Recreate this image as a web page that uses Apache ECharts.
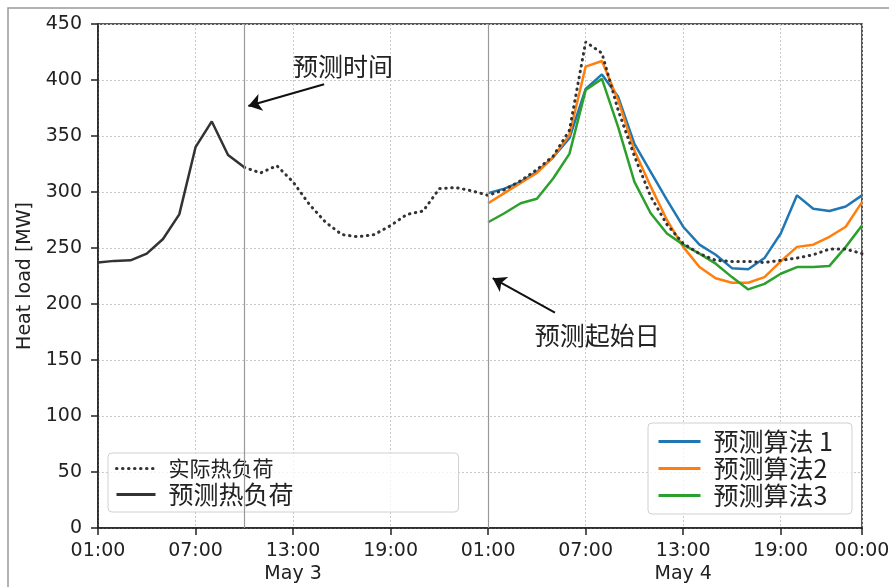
<!DOCTYPE html>
<html><head><meta charset="utf-8">
<script src="https://cdn.jsdelivr.net/npm/echarts@6/dist/echarts.min.js"></script>
<style>html,body{margin:0;padding:0;background:#fff}#c{width:889px;height:587px}</style>
</head><body><div id="c"></div>
<script>
// hours since 01:00 May 3
const tickHours = [0, 6, 12, 18, 24, 30, 36, 42, 47];
const tickLabels = ['01:00', '07:00', '13:00\nMay 3', '19:00', '01:00', '07:00', '13:00\nMay 4', '19:00', '00:00'];
const predictedStart = 0;
const predictedLoad = [237, 238.5, 239, 245, 258, 280, 340, 363, 333, 322];
const actualStart = 9;
const actualLoad = [322, 317, 323.5, 309, 289, 273, 262, 260, 262, 270, 280, 283, 303, 304, 301,
  297, 302, 310, 320, 332, 355, 434, 424, 373, 332, 296, 271, 254, 245, 239, 238, 238, 237, 239, 241, 244, 249, 249, 245];
const algoStart = 24;
const algo1 = [299, 303, 309, 318, 331, 348, 392, 405, 385, 343, 318, 293, 269, 253, 244, 232, 231, 241, 263, 297, 285, 283, 287, 297];
const algo2 = [290, 299, 308, 317, 331, 351, 412, 417, 382, 337, 305, 275, 251, 233, 223, 219, 219, 224, 238, 251, 253, 260, 269, 291];
const algo3 = [273, 281, 290, 294, 312, 334, 391, 401, 358, 309, 281, 263, 253, 245, 236, 224, 213, 218, 227, 233, 233, 234, 251, 270];
const forecastTime = 9;
const forecastDay = 24;

const pts = (start, arr) => arr.map((v, i) => [start + i, v]);
const font = 'DejaVu Sans, sans-serif';
const cjk = '"Noto Sans CJK SC", "DejaVu Sans", sans-serif';

const chart = echarts.init(document.getElementById('c'), null, {renderer: 'canvas'});
chart.setOption({
  animation: false,
  backgroundColor: '#fff',
  graphic: [{type: 'rect', shape: {x: 8, y: 8, width: 900, height: 600}, style: {fill: 'none', stroke: '#999', lineWidth: 1.5}, silent: true, z: -10}],
  grid: {left: 98, right: 27, top: 24, bottom: 59, outerBoundsMode: 'none', containLabel: false,
    show: true, borderColor: '#222', borderWidth: 1.5, backgroundColor: 'transparent'},
  xAxis: {
    type: 'value', min: 0, max: 47,
    axisLine: {show: true, lineStyle: {color: '#222', width: 1.5}},
    axisTick: {show: true, customValues: tickHours, length: 7, inside: false, lineStyle: {color: '#222', width: 1.5}},
    axisLabel: {customValues: tickHours, color: '#222', fontFamily: font, fontSize: 19, margin: 12, lineHeight: 23,
      formatter: v => tickLabels[tickHours.indexOf(v)] || ''},
    splitLine: {show: true, lineStyle: {color: '#c8c8c8', type: [2, 2], width: 1}}
  },
  yAxis: {
    type: 'value', min: 0, max: 450, interval: 50,
    name: 'Heat load [MW]', nameLocation: 'middle', nameGap: 63, nameRotate: 90,
    nameTextStyle: {fontFamily: font, fontSize: 19, color: '#222'},
    axisLine: {show: true, lineStyle: {color: '#222', width: 1.5}},
    axisTick: {show: true, length: 7, lineStyle: {color: '#222', width: 1.5}},
    axisLabel: {color: '#222', fontFamily: font, fontSize: 19, margin: 16},
    splitLine: {show: true, lineStyle: {color: '#c8c8c8', type: [2, 2], width: 1}}
  },
  legend: [{
    orient: 'vertical', left: 108, top: 453,
    data: [{name: '实际热负荷', textStyle: {fontSize: 21}}, {name: '预测热负荷', textStyle: {fontSize: 25}}],
    itemWidth: 39, itemHeight: 12, itemGap: 3,
    padding: [5, 165, 5, 7],
    itemStyle: {opacity: 0}, lineStyle: {width: 3},
    borderColor: '#d0d0d0', borderWidth: 1, borderRadius: 4, backgroundColor: 'rgba(255,255,255,0.8)',
    textStyle: {fontFamily: cjk, color: '#222', padding: [0, 0, 0, 8]}
  }, {
    orient: 'vertical', left: 648, top: 423,
    data: ['预测算法 1', '预测算法2', '预测算法3'],
    itemWidth: 42, itemHeight: 12, itemGap: 2,
    padding: [6, 19, 6, 9],
    itemStyle: {opacity: 0}, lineStyle: {width: 3},
    borderColor: '#d0d0d0', borderWidth: 1, borderRadius: 4, backgroundColor: 'rgba(255,255,255,0.8)',
    textStyle: {fontFamily: cjk, color: '#222', fontSize: 25, padding: [0, 0, 0, 8]}
  }],
  series: [
    {name: '预测算法 1', type: 'line', data: pts(algoStart, algo1), showSymbol: false, symbol: 'none',
      lineStyle: {color: '#1f77b4', width: 2.5}, itemStyle: {color: '#1f77b4'}, z: 3},
    {name: '预测算法2', type: 'line', data: pts(algoStart, algo2), showSymbol: false, symbol: 'none',
      lineStyle: {color: '#ff7f0e', width: 2.5}, itemStyle: {color: '#ff7f0e'}, z: 3},
    {name: '预测算法3', type: 'line', data: pts(algoStart, algo3), showSymbol: false, symbol: 'none',
      lineStyle: {color: '#2ca02c', width: 2.5}, itemStyle: {color: '#2ca02c'}, z: 3},
    {name: '实际热负荷', type: 'line', data: pts(actualStart, actualLoad), showSymbol: false, symbol: 'none',
      lineStyle: {color: '#333', width: 3, type: [0.5, 5.5], cap: 'round'}, itemStyle: {color: '#333'}, z: 4,
      markLine: {silent: true, symbol: 'none', label: {show: false}, animation: false,
        lineStyle: {color: '#999', width: 1.2, type: 'solid'},
        data: [{xAxis: forecastTime}, {xAxis: forecastDay}]}},
    {name: '预测热负荷', type: 'line', data: pts(predictedStart, predictedLoad), showSymbol: false, symbol: 'none',
      lineStyle: {color: '#333', width: 2.5}, itemStyle: {color: '#333'}, z: 4,
      markLine: {silent: true, symbol: ['none', 'arrow'], symbolSize: 13, label: {show: false}, animation: false,
        lineStyle: {color: '#111', width: 2, type: 'solid'}, itemStyle: {color: '#111'},
        data: [
          [{coord: [13.91, 396.2]}, {coord: [9.25, 376.8]}],
          [{coord: [28.11, 192.3]}, {coord: [24.28, 223]}]
        ]},
      markPoint: {silent: true, symbol: 'circle', symbolSize: 0, animation: false,
        label: {show: true, position: 'inside', fontFamily: cjk, fontSize: 25, color: '#222'},
        data: [
          {coord: [15.07, 412.5], label: {formatter: '预测时间'}},
          {coord: [30.72, 172.3], label: {formatter: '预测起始日'}}
        ]}}
  ]
});
</script></body></html>
